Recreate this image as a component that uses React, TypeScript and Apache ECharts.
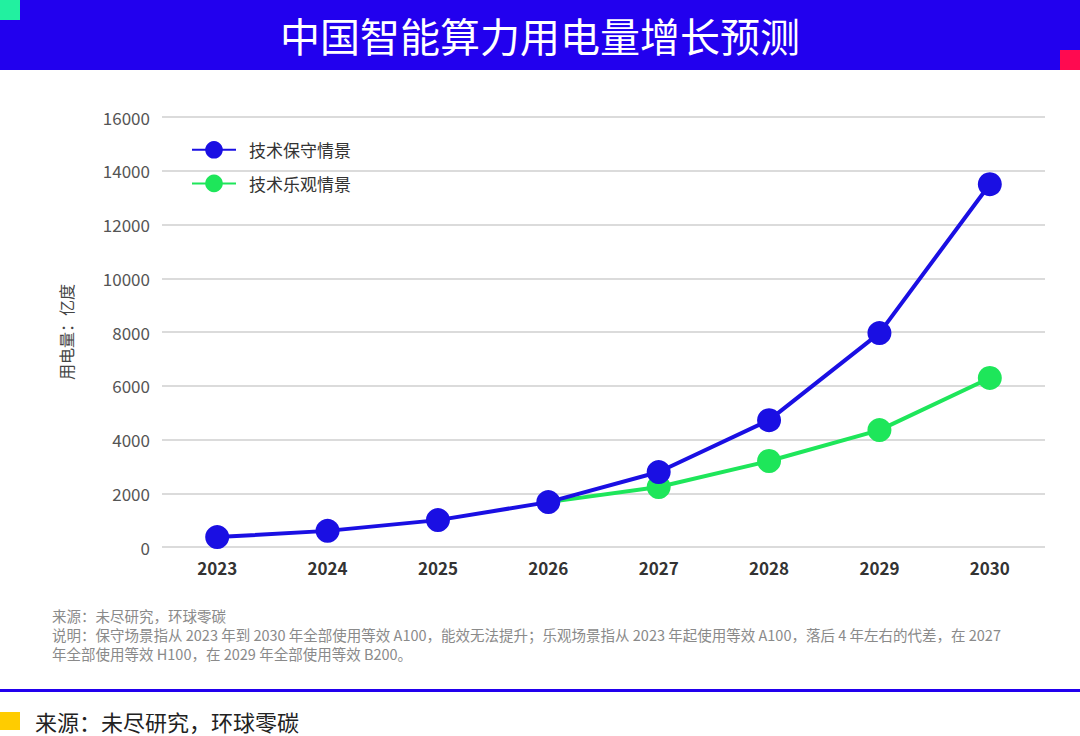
import * as echarts from "echarts";
import { useEffect, useRef } from "react";

const years = ["2023", "2024", "2025", "2026", "2027", "2028", "2029", "2030"];
const conservative = [370, 600, 1000, 1670, 2790, 4720, 7960, 13500];
const optimistic = [null, null, null, 1670, 2230, 3200, 4350, 6290];

const FONT = "'Noto Sans CJK SC', 'Noto Sans', sans-serif";
const BLUE = "#1a0fe3";
const GREEN = "#1ee65a";

const App = () => {
	const chartRef = useRef<HTMLDivElement>(null);

	useEffect(() => {
		const chart = echarts.init(chartRef.current!, null, { renderer: "svg" });
		chart.setOption({
			animation: false,
			textStyle: { fontFamily: FONT },
			grid: { left: 162, right: 35, top: 117, bottom: 189 },
			legend: {
				orient: "vertical",
				left: 186,
				top: 136,
				itemGap: 16,
				itemWidth: 44,
				itemHeight: 22,
				textStyle: { fontSize: 17, color: "#333", fontFamily: FONT, padding: [0, 0, 0, 8] },
				data: ["技术保守情景", "技术乐观情景"]
			},
			xAxis: {
				type: "category",
				data: years,
				axisLine: { show: false },
				axisTick: { show: false },
				axisLabel: { fontSize: 17, fontWeight: "bold", color: "#333", margin: 12 }
			},
			yAxis: {
				type: "value",
				min: 0,
				max: 16000,
				interval: 2000,
				name: "用电量：亿度",
				nameLocation: "middle",
				nameGap: 88,
				nameTextStyle: { fontSize: 16, color: "#444" },
				axisLabel: { fontSize: 17, color: "#555", margin: 12, formatter: (v: number) => String(v) },
				splitLine: { lineStyle: { color: "#cfcfcf", width: 1.5 } }
			},
			series: [
				{
					name: "技术保守情景",
					type: "line",
					data: conservative,
					symbol: "circle",
					symbolSize: 24,
					color: BLUE,
					lineStyle: { width: 4, color: BLUE },
					itemStyle: { color: BLUE }
				},
				{
					name: "技术乐观情景",
					type: "line",
					data: optimistic.map((v, i) => (i === 3 ? { value: v, symbolSize: 0 } : v)),
					symbol: "circle",
					symbolSize: 24,
					color: GREEN,
					lineStyle: { width: 4, color: GREEN },
					itemStyle: { color: GREEN },
					z: 1
				}
			],
			graphic: [
				{ type: "rect", shape: { x: 0, y: 0, width: 1080, height: 70 }, style: { fill: "#2200ee" } },
				{ type: "rect", shape: { x: 0, y: 0, width: 20, height: 20 }, style: { fill: "#22f0a0" } },
				{ type: "rect", shape: { x: 1060, y: 50, width: 20, height: 20 }, style: { fill: "#ff0a50" } },
				{
					type: "text",
					x: 540,
					y: 35,
					style: { text: "中国智能算力用电量增长预测", fill: "#fff", fontSize: 40, fontFamily: FONT, align: "center", verticalAlign: "middle" }
				},
				{
					type: "text",
					x: 52,
					y: 606,
					style: {
						text: "来源：未尽研究，环球零碳\n说明：保守场景指从 2023 年到 2030 年全部使用等效 A100，能效无法提升；乐观场景指从 2023 年起使用等效 A100，落后 4 年左右的代差，在 2027\n年全部使用等效 H100，在 2029 年全部使用等效 B200。",
						fill: "#8a8a8a",
						fontSize: 14.5,
						lineHeight: 19,
						fontFamily: FONT
					}
				},
				{ type: "rect", shape: { x: 0, y: 689, width: 1080, height: 3 }, style: { fill: "#2200ee" } },
				{ type: "rect", shape: { x: 0, y: 712, width: 20, height: 18 }, style: { fill: "#ffcc00" } },
				{
					type: "text",
					x: 35,
					y: 721,
					style: { text: "来源：未尽研究，环球零碳", fill: "#222", fontSize: 22, fontFamily: FONT, verticalAlign: "middle" }
				}
			]
		});
		return () => {
			chart.dispose();
		};
	}, []);

	return (
		<div
			ref={chartRef}
			style={{ position: "absolute", left: 0, top: 0, width: "1080px", height: "736px", background: "#fff" }}
		/>
	);
};

export default App;
